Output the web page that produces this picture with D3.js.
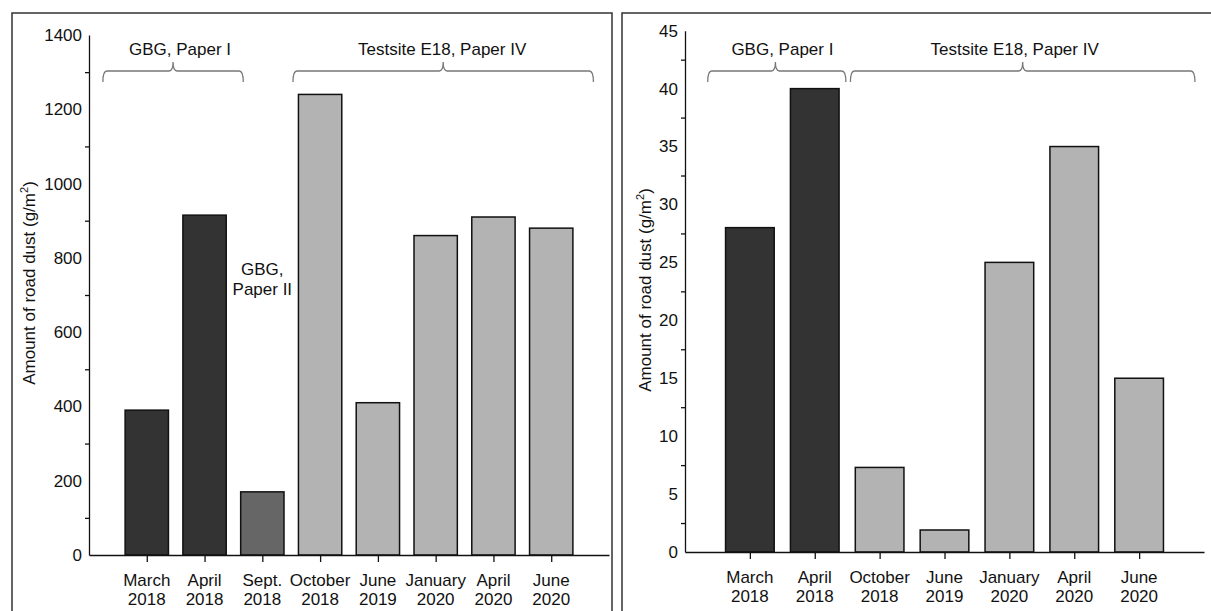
<!DOCTYPE html>
<html><head><meta charset="utf-8">
<script src="https://cdn.jsdelivr.net/npm/d3@7"></script>
<style>body{margin:0;background:#fff}svg{display:block;font-family:"Liberation Sans",Arial,sans-serif}</style>
</head><body>
<svg id="c" width="1211" height="611"></svg>
<script>
// Left panel data
const leftCats = ["March\n2018","April\n2018","Sept.\n2018","October\n2018","June\n2019","January\n2020","April\n2020","June\n2020"];
const leftVals = [390, 915, 170, 1240, 410, 860, 910, 880];
const leftGroup = ["gbg1","gbg1","gbg2","e18","e18","e18","e18","e18"];
const leftTicks = [0,200,400,600,800,1000,1200,1400];
const leftMinor = [100,300,500,700,900,1100,1300];
// Right panel data
const rightCats = ["March\n2018","April\n2018","October\n2018","June\n2019","January\n2020","April\n2020","June\n2020"];
const rightVals = [28, 40, 7.3, 1.9, 25, 35, 15];
const rightGroup = ["gbg1","gbg1","e18","e18","e18","e18","e18"];
const rightTicks = [0,5,10,15,20,25,30,35,40,45];
const rightMinor = [2.5,7.5,12.5,17.5,22.5,27.5,32.5,37.5,42.5];

const colors = {gbg1:"#333333", gbg2:"#666666", e18:"#b3b3b3"};
const FS = 17;
const svg = d3.select("#c");

function panel(cfg){
  const g = svg.append("g");
  g.append("rect").attr("x",cfg.box[0]).attr("y",cfg.box[1]).attr("width",cfg.box[2]).attr("height",cfg.box[3])
    .attr("fill","none").attr("stroke","#333").attr("stroke-width",1.5);
  const x = d3.scalePoint().domain(cfg.cats).range(cfg.xr).padding(1);
  const y = d3.scaleLinear().domain([0,cfg.ymax]).range(cfg.yr);
  const step = x.step(), bw = step*0.75;
  g.selectAll("rect.bar").data(cfg.cats).join("rect").attr("class","bar")
    .attr("x",d=>x(d)-bw/2).attr("width",bw)
    .attr("y",(d,i)=>y(cfg.vals[i])).attr("height",(d,i)=>y(0)-y(cfg.vals[i]))
    .attr("fill",(d,i)=>colors[cfg.groups[i]]).attr("stroke","#111").attr("stroke-width",1.5);
  const ya = g.append("g").attr("transform",`translate(${cfg.xr[0]},0)`)
    .call(d3.axisLeft(y).tickValues(cfg.ticks).tickSize(0).tickPadding(7).tickFormat(d3.format("d")));
  ya.attr("font-size",FS).attr("font-family","Liberation Sans, Arial, sans-serif");
  ya.select(".domain").attr("stroke","#111").attr("stroke-width",1.3);
  ya.selectAll("text").attr("fill","#111");
  const ym = g.append("g").attr("transform",`translate(${cfg.xr[0]},0)`)
    .call(d3.axisLeft(y).tickValues(cfg.minor).tickSize(4).tickFormat(""));
  ym.select(".domain").remove();
  ym.selectAll("line").attr("stroke","#111").attr("stroke-width",1.3);
  const xa = g.append("g").attr("transform",`translate(0,${cfg.yr[0]})`)
    .call(d3.axisBottom(x).tickSize(7).tickSizeOuter(0).tickFormat(""));
  xa.select(".domain").attr("stroke","#111").attr("stroke-width",1.3);
  xa.selectAll("line").attr("stroke","#111").attr("stroke-width",1.3);
  cfg.cats.forEach(c=>{
    const t = g.append("text").attr("x",x(c)).attr("y",cfg.yr[0]+31).attr("text-anchor","middle")
      .attr("font-size",FS).attr("fill","#111");
    c.split("\n").forEach((s,j)=>t.append("tspan").attr("x",x(c)).attr("dy",j?19:0).text(s));
  });
  g.append("text").attr("transform",`translate(${cfg.ylab[0]},${cfg.ylab[1]}) rotate(-90)`)
    .attr("text-anchor","middle").attr("font-size",FS).attr("fill","#111")
    .html('Amount of road dust (g/m<tspan dy="-7" font-size="11">2</tspan><tspan dy="7">)</tspan>');
  cfg.brackets.forEach(b=>{
    const x0 = x(cfg.cats[b.from]) + b.o0*step, x1 = x(cfg.cats[b.to]) + b.o1*step, xm = x0 + b.mid*(x1-x0);
    const yl = 71, ye = 82, yp = 62, r = 4;
    const p = `M${x0},${ye} Q${x0},${yl} ${x0+r},${yl} L${xm-r},${yl} Q${xm},${yl} ${xm},${yp} Q${xm},${yl} ${xm+r},${yl} L${x1-r},${yl} Q${x1},${yl} ${x1},${ye}`;
    g.append("path").attr("d",p).attr("fill","none").attr("stroke","#777").attr("stroke-width",1.3);
    g.append("text").attr("x",xm+b.tdx).attr("y",55).attr("text-anchor","middle").attr("font-size",FS).attr("fill","#111").text(b.label);
  });
  (cfg.extra||[]).forEach(e=>{
    const t = g.append("text").attr("x",x(cfg.cats[e.cat])).attr("y",e.y).attr("text-anchor","middle").attr("font-size",FS).attr("fill","#111");
    e.lines.forEach((s,j)=>t.append("tspan").attr("x",x(cfg.cats[e.cat])).attr("dy",j?20:0).text(s));
  });
}

panel({box:[12,13,600,610], cats:leftCats, vals:leftVals, groups:leftGroup, ticks:leftTicks, minor:leftMinor,
  ymax:1400, xr:[89,609], yr:[555,35], ylab:[35,283],
  brackets:[{from:0,to:1,o0:-0.76,o1:0.67,mid:0.5,label:"GBG, Paper I",tdx:7},
            {from:3,to:7,o0:-0.47,o1:0.73,mid:0.5,label:"Testsite E18, Paper IV",tdx:-1}],
  extra:[{cat:2,y:275,lines:["GBG,","Paper II"]}]});

panel({box:[622,13,590,610], cats:rightCats, vals:rightVals, groups:rightGroup, ticks:rightTicks, minor:rightMinor,
  ymax:45, xr:[685,1204], yr:[552,30.7], ylab:[651,290],
  brackets:[{from:0,to:1,o0:-0.65,o1:0.48,mid:0.49,label:"GBG, Paper I",tdx:7},
            {from:2,to:6,o0:-0.45,o1:0.86,mid:0.50,label:"Testsite E18, Paper IV",tdx:-8}]});
</script>
</body></html>
